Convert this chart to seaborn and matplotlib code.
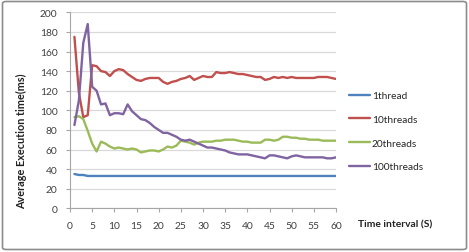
import numpy as np
import pandas as pd
import matplotlib
matplotlib.use("Agg")
import matplotlib.pyplot as plt
from matplotlib.patches import FancyBboxPatch
from matplotlib.lines import Line2D
import seaborn as sns

time_s = list(range(1, 61))
series_names = ["1thread", "10threads", "20threads", "100threads"]

thread1 = [35, 34, 34, 33] + [33] * 56
threads10 = [175, 118, 93, 95, 146, 145, 140, 139, 135, 140,
             142, 141, 137, 134, 131, 130, 132, 133, 133, 133,
             129, 127, 129, 130, 132, 133, 135, 131, 133, 135,
             134, 134, 139, 138, 138, 139, 138, 137, 137, 136,
             135, 134, 134, 131, 132, 134, 133, 134, 133, 134,
             133, 133, 133, 133, 133, 134, 134, 134, 133, 132]
threads20 = [93, 94, 91, 79, 66, 58, 68, 66, 63, 61,
             62, 61, 60, 61, 60, 57, 58, 59, 59, 58,
             60, 63, 62, 64, 69, 68, 67, 65, 67, 68,
             68, 68, 69, 69, 70, 70, 70, 69, 68, 68,
             67, 67, 67, 70, 70, 69, 70, 73, 73, 72,
             72, 71, 71, 70, 70, 70, 69, 69, 69, 69]
threads100 = [85, 110, 169, 188, 124, 120, 106, 107, 95, 97,
              97, 96, 106, 99, 95, 91, 90, 87, 83, 80,
              77, 77, 75, 73, 70, 69, 70, 68, 66, 64,
              62, 62, 61, 60, 59, 57, 56, 55, 55, 55,
              54, 53, 52, 51, 54, 54, 53, 52, 51, 53,
              54, 53, 52, 52, 52, 52, 52, 51, 51, 52]

x_ticks = list(range(0, 61, 5))
y_ticks = list(range(0, 201, 20))

df = pd.DataFrame({
    "time": time_s * 4,
    "value": thread1 + threads10 + threads20 + threads100,
    "series": sum([[n] * len(time_s) for n in series_names], []),
})

sns.set_theme(style="white")
plt.rcParams["font.family"] = ["Lato", "DejaVu Sans"]

W, H = 469, 253
fig = plt.figure(figsize=(W / 100, H / 100), dpi=100)
ax = fig.add_axes([70 / W, 1 - 209.3 / H, (336 - 70) / W, (209.3 - 13.3) / H])

palette = {"1thread": "#4F81BD", "10threads": "#C0504D",
           "20threads": "#9BBB59", "100threads": "#8064A2"}
sns.lineplot(data=df, x="time", y="value", hue="series", hue_order=series_names,
             palette=palette, linewidth=1.7, ax=ax, legend=False)

ax.set_xlim(0, 60)
ax.set_ylim(0, 200)
ax.set_xticks(x_ticks)
ax.set_yticks(y_ticks)
ax.set_xlabel("")
ax.set_ylabel("")
ax.yaxis.grid(True, color="#D9D9D9", linewidth=0.9)
ax.xaxis.grid(False)
ax.set_axisbelow(True)
for s in ["top", "right"]:
    ax.spines[s].set_visible(False)
for s in ["left", "bottom"]:
    ax.spines[s].set_color("#A6A6A6")
    ax.spines[s].set_linewidth(0.8)
ax.tick_params(axis="both", which="major", labelsize=7.4, colors="#A6A6A6",
               labelcolor="#404040", length=3, width=0.8, direction="out",
               bottom=True, left=True, pad=6)

fig.text(22 / W, 1 - 141 / H, "Average Execution time(ms)", rotation=90,
         ha="center", va="center", fontsize=7.8, fontweight="bold", color="#222222")
fig.text(358 / W, 1 - 225 / H, "Time interval (S)", ha="left", va="center",
         fontsize=7.4, fontweight="bold", color="#222222")

handles = [Line2D([0], [0], color=palette[n], linewidth=1.7) for n in series_names]
fig.legend(handles, series_names, loc="upper left",
           bbox_to_anchor=(349 / W, 1 - 92 / H), frameon=False,
           fontsize=7.3, handlelength=2.1, handletextpad=0.15,
           labelspacing=1.45, borderaxespad=0, borderpad=0)

border = FancyBboxPatch((2.5 / W, 2.5 / H), (W - 5) / W, (H - 5) / H,
                        boxstyle="round,pad=0,rounding_size=0.008",
                        transform=fig.transFigure, fill=False,
                        edgecolor="#8C8C8C", linewidth=1.2)
fig.patches.append(border)

fig.savefig("out.png", dpi=100)
